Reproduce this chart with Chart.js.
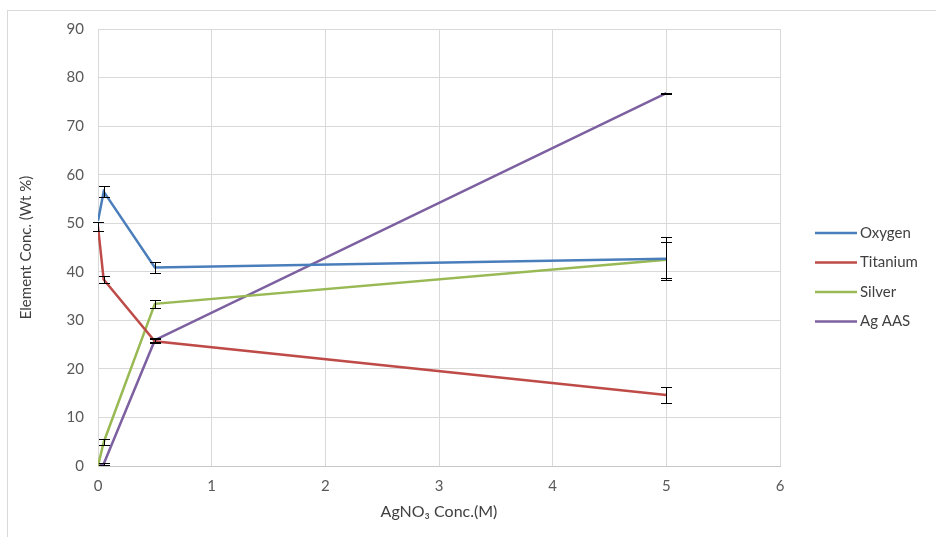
<!DOCTYPE html>
<html lang="en">
<head>
    <meta charset="UTF-8">
    <title>Element Conc. vs AgNO3 Conc.</title>
    <script src="https://cdn.jsdelivr.net/npm/chart.js"></script>
    <style>
        html, body { margin: 0; padding: 0; background: #fff; }
        #wrap { width: 936px; height: 537px; }
    </style>
</head>
<body>
    <div id="wrap"><canvas id="concChart" width="936" height="537"></canvas></div>

    <script>
        // AgNO3 concentration (M)
        const concentration = [0, 0.05, 0.5, 5];

        // element concentration (Wt %) and error bar half-widths
        const oxygen = [50.5, 56.5, 40.9, 42.7];
        const oxygenErr = [0, 1.1, 1.2, 4.4];
        const titanium = [49.3, 38.4, 25.7, 14.6];
        const titaniumErr = [1.0, 0.8, 0.4, 1.7];
        const silver = [0, 4.9, 33.4, 42.5];
        const silverErr = [0, 0.6, 0.8, 3.7];
        const agAas = [0, 0.4, 25.9, 76.8];
        const agAasErr = [0, 0.2, 0.4, 0.1];

        const seriesNames = ['Oxygen', 'Titanium', 'Silver', 'Ag AAS'];
        const seriesColors = ['#4a7ebb', '#be4b48', '#98b954', '#7d60a0'];
        const seriesValues = [oxygen, titanium, silver, agAas];
        const seriesErrors = [oxygenErr, titaniumErr, silverErr, agAasErr];

        const FONT = 'Lato, "Open Sans", sans-serif';

        const datasets = seriesNames.map((name, s) => ({
            label: name,
            data: concentration.map((c, i) => ({ x: c, y: seriesValues[s][i] })),
            errors: seriesErrors[s],
            borderColor: seriesColors[s],
            backgroundColor: seriesColors[s],
            borderWidth: 2.5,
            pointRadius: 0,
            showLine: true,
            tension: 0
        }));

        // outer frame of the chart
        const framePlugin = {
            id: 'frame',
            beforeDraw(chart) {
                const ctx = chart.ctx;
                ctx.save();
                ctx.strokeStyle = '#d9d9d9';
                ctx.lineWidth = 1;
                ctx.strokeRect(7.5, 10.5, chart.width, chart.height);
                ctx.restore();
            }
        };

        // vertical error bars with caps
        const errorBarPlugin = {
            id: 'errorBars',
            afterDatasetsDraw(chart) {
                const ctx = chart.ctx;
                const xs = chart.scales.x, ys = chart.scales.y;
                ctx.save();
                ctx.strokeStyle = '#000';
                ctx.lineWidth = 1;
                chart.data.datasets.forEach(ds => {
                    ds.data.forEach((p, i) => {
                        const e = ds.errors[i];
                        if (!e) return;
                        const px = Math.round(xs.getPixelForValue(p.x)) + 0.5;
                        const top = Math.round(ys.getPixelForValue(p.y + e)) + 0.5;
                        const bot = Math.round(ys.getPixelForValue(p.y - e)) + 0.5;
                        ctx.beginPath();
                        ctx.moveTo(px, top); ctx.lineTo(px, bot);
                        ctx.moveTo(px - 5.5, top); ctx.lineTo(px + 5.5, top);
                        ctx.moveTo(px - 5.5, bot); ctx.lineTo(px + 5.5, bot);
                        ctx.stroke();
                    });
                });
                ctx.restore();
            }
        };

        // legend to the right of the plot area
        const legendPlugin = {
            id: 'sideLegend',
            afterDraw(chart) {
                const ctx = chart.ctx;
                const x0 = chart.chartArea.right + 35;
                const step = 29.5;
                const y0 = 233;
                ctx.save();
                ctx.font = '15px ' + FONT;
                ctx.textBaseline = 'middle';
                ctx.fillStyle = '#404040';
                chart.data.datasets.forEach((ds, i) => {
                    const y = y0 + i * step;
                    ctx.strokeStyle = ds.borderColor;
                    ctx.lineWidth = 2.5;
                    ctx.beginPath();
                    ctx.moveTo(x0, y);
                    ctx.lineTo(x0 + 42, y);
                    ctx.stroke();
                    ctx.fillText(ds.label, x0 + 45, y);
                });
                ctx.restore();
            }
        };

        new Chart(document.getElementById('concChart'), {
            type: 'scatter',
            data: { datasets: datasets },
            options: {
                responsive: false,
                animation: false,
                layout: { padding: { top: 29, right: 156, bottom: 4, left: 0 } },
                plugins: {
                    legend: { display: false },
                    tooltip: { enabled: false }
                },
                scales: {
                    x: {
                        type: 'linear',
                        min: 0,
                        max: 6,
                        ticks: { stepSize: 1, padding: 11, color: '#595959', font: { family: FONT, size: 15 } },
                        grid: { color: '#d9d9d9', drawTicks: false },
                        border: { color: '#c8c8c8' },
                        title: {
                            display: true,
                            text: 'AgNO₃ Conc.(M)',
                            color: '#404040',
                            font: { family: FONT, size: 16 },
                            padding: { top: 0, bottom: 12 }
                        },
                        afterFit(scale) { scale.height = 67; }
                    },
                    y: {
                        min: 0,
                        max: 90,
                        ticks: { stepSize: 10, padding: 14, color: '#595959', font: { family: FONT, size: 15 } },
                        grid: { color: '#d9d9d9', drawTicks: false },
                        border: { color: '#d9d9d9' },
                        title: {
                            display: true,
                            text: 'Element Conc. (Wt %)',
                            color: '#404040',
                            font: { family: FONT, size: 15 },
                            padding: { top: 17, bottom: 0 }
                        },
                        afterFit(scale) { scale.width = 98; }
                    }
                }
            },
            plugins: [framePlugin, errorBarPlugin, legendPlugin]
        });
    </script>
</body>
</html>
